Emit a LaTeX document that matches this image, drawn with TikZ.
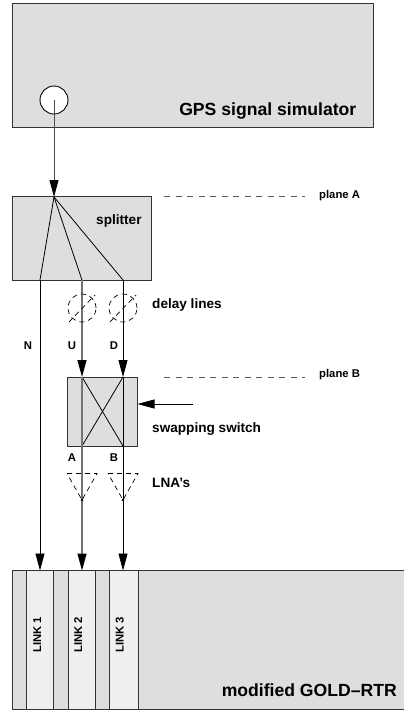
\documentclass[tikz,border=0pt]{standalone}
\usepackage{fontspec}
\setmainfont{Liberation Sans}
\usetikzlibrary{arrows.meta}
\definecolor{boxgrey}{HTML}{DEDEDE}
\definecolor{linkfill}{HTML}{EEF0F0}
\tikzset{
 greybox/.style={draw=black!80,fill=boxgrey,line width=.9pt,inner sep=0pt,outer sep=0pt,anchor=north west},
 linkbox/.style={draw=black!80,fill=linkfill,line width=.9pt,inner sep=0pt,outer sep=0pt,anchor=north west,minimum height=139pt},
 sig/.style={draw=black,line width=.8pt},
 greysig/.style={draw=black!55,line width=1.2pt},
 arrowtip/.style={-{Triangle[length=17pt,width=9pt,fill=black,color=black]}},
 planedash/.style={draw=black!65,line width=.7pt,dash pattern=on 6pt off 5.5pt},
 dl/.style={draw=black,line width=.7pt,dash pattern=on 5pt off 4pt},
 lab/.style={font=\bfseries\fontsize{13.6}{15}\selectfont,inner sep=0pt,anchor=base west},
 big/.style={font=\bfseries\fontsize{17.6}{20}\selectfont,inner sep=0pt,anchor=base east},
 small/.style={font=\bfseries\fontsize{11.3}{12}\selectfont,inner sep=0pt,anchor=base},
 linklab/.style={font=\bfseries\fontsize{11.3}{12}\selectfont,inner sep=0pt,anchor=base,rotate=90},
}
\begin{document}
\begin{tikzpicture}[x=1pt,y=-1pt]
\useasboundingbox (0,0) rectangle (404,710);
\fill[white] (0,0) rectangle (404,710);
\node[greybox,minimum width=360.5pt,minimum height=124pt] (gps) at (12.5,3) {};
\node[big] (gpsl) at (356.5,115) {GPS signal simulator};
\node[draw=black,fill=white,circle,line width=.9pt,minimum size=28pt,inner sep=0pt] (port) at (54,100) {};
\coordinate (portc) at (54,100);
\node[greybox,minimum width=138.5pt,minimum height=83.5pt] (spl) at (12.5,196.5) {};
\node[lab] (spll) at (96,224) {splitter};
\coordinate (apex) at (54,197);
\coordinate (s1) at (40,280);
\coordinate (s2) at (82,280);
\coordinate (s3) at (123,280);
\draw[sig,draw=black!70,arrowtip] (portc) -- (apex);
\draw[sig] (apex) -- (s1);
\draw[sig] (apex) -- (s2);
\draw[sig] (apex) -- (s3);
% switch
\node[greybox,minimum width=70pt,minimum height=69pt] (sw) at (67.5,377) {};
\coordinate (i1) at (82,377);
\coordinate (i2) at (123,377);
\coordinate (o1) at (82,446);
\coordinate (o2) at (123,446);
\draw[sig] (i1) -- (o2);
\draw[sig] (i2) -- (o1);
% bottom box
\node[greybox,minimum width=392pt,minimum height=139pt] (rtr) at (12.5,570.5) {};
\node[linkbox,minimum width=27pt] (l1) at (26.5,570.5) {};
\node[linkbox,minimum width=27pt] (l2) at (68,570.5) {};
\node[linkbox,minimum width=28.5pt] (l3) at (109.5,570.5) {};
\node[linklab] (l1t) at (41,635) {LINK 1};
\node[linklab] (l2t) at (82,635) {LINK 2};
\node[linklab] (l3t) at (123.5,635) {LINK 3};
\node[big] (rtrl) at (397,696) {modified GOLD--RTR};
% vertical signal lines
\draw[sig,arrowtip] (s1) -- (s1 |- l1.north);
\draw[greysig,arrowtip] (s2) -- (i1);
\draw[sig,arrowtip] (s3) -- (i2);
\draw[greysig,arrowtip] (i1) -- (i1 |- l2.north);
\draw[sig,arrowtip] (i2) -- (i2 |- l3.north);
% delay lines
\foreach \n/\x in {a/82,b/123}{
 \draw[dl] (\x,308) circle[radius=14pt];
 \draw[dl] (\x-13,322) -- (\x+13,295);
 % LNA
 \draw[dl] (\x-15,473.5) -- (\x+15,473.5) -- (\x,500) -- cycle;
 \fill (\x,500) circle[radius=1.3pt];
}
% planes
\coordinate (pa1) at (164,196.5); \coordinate (pa2) at (305,196.5);
\coordinate (pb1) at (164,377); \coordinate (pb2) at (305,377);
\draw[planedash] (pa1) -- (pa2);
\draw[planedash] (pb1) -- (pb2);
\node[small,anchor=base west] (pal) at (319,198) {plane A};
\node[small,anchor=base west] (pbl) at (319,377) {plane B};
% control
\coordinate (ctl) at (193,404);
\draw[sig,arrowtip] (ctl) -- (sw.east |- ctl);
\node[lab] (dll) at (152,308) {delay lines};
\node[lab] (swl) at (152,432.5) {swapping switch};
\node[lab] (lnal) at (152,487) {LNA's};
\node[small] (n) at (28,349) {N};
\node[small] (u) at (72,349) {U};
\node[small] (d) at (114,349) {D};
\node[small] (a) at (72,461) {A};
\node[small] (b) at (114,461) {B};
\end{tikzpicture}
\end{document}
